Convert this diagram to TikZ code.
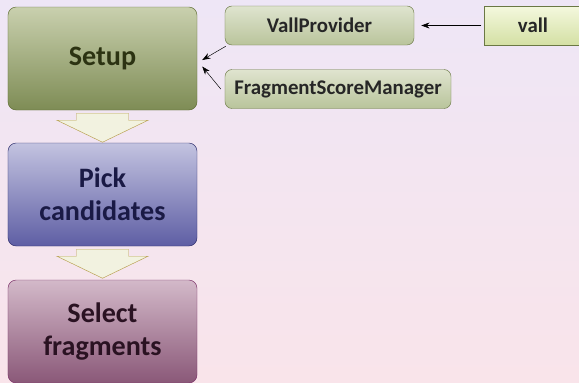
\documentclass[tikz,border=0pt]{standalone}
\usepackage{fontspec}
\setmainfont{Carlito}
\usetikzlibrary{arrows.meta}
\usetikzlibrary{positioning}

\definecolor{bgTop}{HTML}{EEE6F6}
\definecolor{bgBot}{HTML}{F9E4EA}
\definecolor{setupTop}{HTML}{C9D0AE}
\definecolor{setupBot}{HTML}{7E8C55}
\definecolor{setupLine}{HTML}{5C6A30}
\definecolor{setupText}{HTML}{2C3312}
\definecolor{pickTop}{HTML}{C3C3E0}
\definecolor{pickBot}{HTML}{5E5EA4}
\definecolor{pickLine}{HTML}{2A2A6A}
\definecolor{pickText}{HTML}{1A1A45}
\definecolor{selTop}{HTML}{D3B9C9}
\definecolor{selBot}{HTML}{8A5878}
\definecolor{selLine}{HTML}{7A2E66}
\definecolor{selText}{HTML}{2A1222}
\definecolor{partTop}{HTML}{DFE4CF}
\definecolor{partBot}{HTML}{B9C49B}
\definecolor{partLine}{HTML}{6A7844}
\definecolor{vallTop}{HTML}{F4F8DE}
\definecolor{vallBot}{HTML}{D4E0A4}
\definecolor{flowFill}{HTML}{F2F2E0}
\definecolor{flowLine}{HTML}{B8A050}

\begin{document}
\begin{tikzpicture}[x=0.03cm, y=-0.03cm,
  stepbox/.style={rounded corners=7pt, thin, minimum width=5.67cm, minimum height=3.09cm,
    align=center, font=\fontsize{24}{28}\selectfont\bfseries},
  partbox/.style={rounded corners=6pt, thin, draw=partLine, top color=partTop, bottom color=partBot,
    minimum height=1.17cm, font=\fontsize{17.8}{20}\selectfont\bfseries, text=black!85},
  flowarrow/.style={fill=flowFill, draw=flowLine, thin, line join=miter},
  link/.style={-{Stealth[length=7pt,width=5pt]}, thin, black}]

 %background
  \fill[top color=bgTop, bottom color=bgBot] (0,0) rectangle (579,382);
  \useasboundingbox (0,0) rectangle (579,382);

 %steps
  \node[stepbox, top color=setupTop, bottom color=setupBot, draw=setupLine, text=setupText] (setup) at (102.5,58.5) {Setup};
  \node[stepbox, top color=pickTop, bottom color=pickBot, draw=pickLine, text=pickText] (pick) at (102.5,194.5) {Pick\\candidates};
  \node[stepbox, top color=selTop, bottom color=selBot, draw=selLine, text=selText] (select) at (102.5,331.5) {Select\\fragments};

 %flow arrows
  \foreach \a/\b in {setup/pick, pick/select} {
    \draw[flowarrow] ([shift={(-26,3)}]\a.south) -- ++(0,7) -- ++(-19.5,0) -- ++(45.5,22)
        -- ++(45.5,-22) -- ++(-19.5,0) -- ++(0,-7) -- cycle;
  }

 %parts
  \node[partbox, minimum width=5.67cm] (vp) at (319.5,25.5) {VallProvider};
  \node[partbox, minimum width=6.78cm] (fsm) at (338,89) {FragmentScoreManager};
  \node[partbox, rounded corners=0pt, minimum width=2.94cm, top color=vallTop, bottom color=vallBot] (vall) at (533,25.5) {vall};

 %links
  \draw[link, shorten >=6pt, shorten <=2pt] (vall) -- (vp);
  \draw[link] ([shift={(1,1)}]vp.south west) -- ([shift={(5,1.5)}]setup.east);
  \draw[link] ([shift={(-4,0)}]fsm.west) -- ([shift={(5,8)}]setup.east);

\end{tikzpicture}
\end{document}
